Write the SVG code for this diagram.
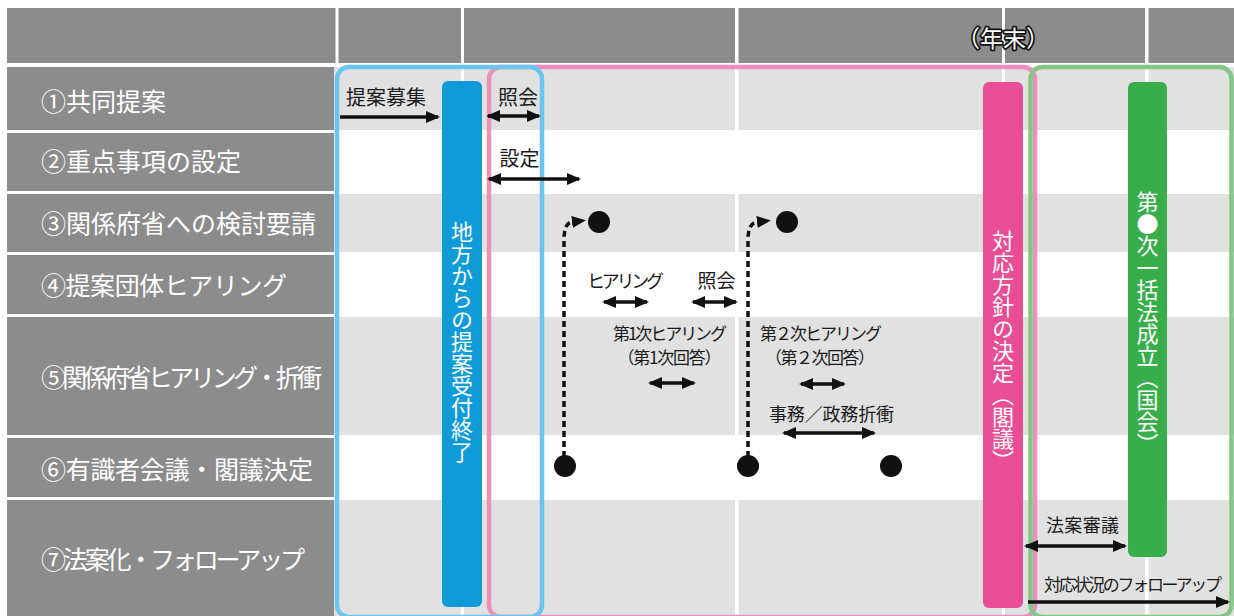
<svg xmlns="http://www.w3.org/2000/svg" width="1234" height="616" viewBox="0 0 1234 616">
<style>
.jp{font-family:"Noto Sans CJK JP","Noto Sans CJK SC",sans-serif;}
.lbl{font-size:25px;fill:#fff;}
.t{font-size:19px;fill:#1a1a1a;text-anchor:middle;}
.vt{font-size:22px;fill:#fff;writing-mode:vertical-rl;}
.hdr{fill:#8c8c8c;}
.row{fill:#e1e1e1;}
.col{fill:#fff;}
.arr{stroke:#111;stroke-width:3.5;fill:none;}
.dash{stroke:#111;stroke-width:3.5;fill:none;stroke-dasharray:6 4;}
.dot{fill:#111;}
</style>
<defs>
<marker id="ah" viewBox="0 0 14 12" refX="12" refY="6" markerWidth="14" markerHeight="12" markerUnits="userSpaceOnUse" orient="auto-start-reverse"><path d="M0,0 L14,6 L0,12 z" fill="#111"/></marker>
<marker id="ahd" viewBox="0 0 14 12" refX="0" refY="6" markerWidth="14" markerHeight="12" markerUnits="userSpaceOnUse" orient="auto"><path d="M0,0 L14,6 L0,12 z" fill="#111"/></marker>
</defs>
<rect width="1234" height="616" fill="#fff"/>
<g id="header">
<rect class="hdr" x="7" y="8" width="1227" height="55"/>
<rect class="col" x="335.5" y="8" width="3" height="55"/>
<rect class="col" x="461" y="8" width="3" height="55"/>
<rect class="col" x="735" y="8" width="3.5" height="55"/>
<rect class="col" x="1002" y="8" width="3" height="55"/>
<rect class="col" x="1145" y="8" width="3.5" height="55"/>
<text class="jp" x="1003" y="47" font-size="23" text-anchor="middle" fill="#fff" stroke="#111" stroke-width="3.5" paint-order="stroke" stroke-linejoin="round">（年末）</text>
</g>
<g id="grid">
<rect class="row" x="334" y="67" width="900" height="63"/>
<rect class="row" x="334" y="194" width="900" height="58"/>
<rect class="row" x="334" y="317" width="900" height="118"/>
<rect class="row" x="334" y="500" width="900" height="116"/>
<rect class="col" x="461" y="67" width="3" height="549"/>
<rect class="col" x="735" y="67" width="3.5" height="549"/>
<rect class="col" x="1002" y="67" width="3" height="549"/>
<rect class="col" x="1145" y="67" width="3.5" height="549"/>
</g>
<g id="row-labels" class="jp lbl">
<rect class="hdr" x="7" y="67" width="327" height="63"/>
<rect class="hdr" x="7" y="133" width="327" height="58"/>
<rect class="hdr" x="7" y="194" width="327" height="58"/>
<rect class="hdr" x="7" y="255" width="327" height="59"/>
<rect class="hdr" x="7" y="317" width="327" height="118"/>
<rect class="hdr" x="7" y="438" width="327" height="59"/>
<rect class="hdr" x="7" y="500" width="327" height="116"/>
<text x="41" y="110.5">①共同提案</text>
<text x="41" y="171">②重点事項の設定</text>
<text x="41" y="232.5" textLength="275">③関係府省への検討要請</text>
<text x="41" y="294.5" textLength="246">④提案団体ヒアリング</text>
<text x="41" y="386.5" textLength="281">⑤関係府省ヒアリング・折衝</text>
<text x="41" y="478.5" textLength="272">⑥有識者会議・閣議決定</text>
<text x="41" y="568.5" textLength="264">⑦法案化・フォローアップ</text>
</g>
<g id="phase-pink"><rect x="489" y="67" width="546" height="550" rx="12" fill="none" stroke="#eb90bb" stroke-width="4.5"/></g>
<g id="phase-green"><rect x="1030.5" y="67" width="201" height="550" rx="12" fill="none" stroke="#82c785" stroke-width="4.5"/></g>
<g id="phase-blue"><rect x="337" y="67" width="205" height="550" rx="12" fill="none" stroke="#6ac5ef" stroke-width="4.5"/></g>
<g id="bar-blue">
<rect x="442" y="81" width="40" height="526" rx="6" fill="#0f9bd7"/>
<text class="jp vt" x="462" y="221">地方からの提案受付終了</text>
</g>
<g id="bar-pink">
<rect x="983" y="82" width="40" height="526" rx="6" fill="#e84d95"/>
<text class="jp vt" x="1003" y="230">対応方針の決定（閣議）</text>
</g>
<g id="bar-green">
<rect x="1128" y="82" width="39" height="475" rx="6" fill="#38ae4b"/>
<text class="jp vt" x="1147.5" y="191">第●次一括法成立（国会）</text>
</g>
<g id="labels" class="jp t">
<text x="386" y="104.5" font-size="20">提案募集</text>
<text x="518" y="104.5" font-size="20">照会</text>
<text x="519.5" y="165.5" font-size="20">設定</text>
<text x="625.5" y="288" font-size="18" textLength="77">ヒアリング</text>
<text x="716.5" y="288" font-size="19">照会</text>
<text x="670" y="340" font-size="17" textLength="114">第1次ヒアリング</text>
<text x="669.5" y="364" font-size="17" textLength="104">（第1次回答）</text>
<text x="821" y="340" font-size="17" textLength="122">第２次ヒアリング</text>
<text x="820" y="364" font-size="17" textLength="110">（第２次回答）</text>
<text x="831.5" y="421" font-size="18" textLength="125">事務／政務折衝</text>
<text x="1082.5" y="531.5" font-size="18" textLength="73">法案審議</text>
<text x="1133" y="590.5" font-size="17" textLength="178">対応状況のフォローアップ</text>
</g>
<g id="connectors">
<line class="arr" x1="340" y1="117" x2="438" y2="117" marker-end="url(#ah)"/>
<line class="arr" x1="488" y1="116" x2="539" y2="116" marker-start="url(#ah)" marker-end="url(#ah)"/>
<line class="arr" x1="489" y1="179" x2="579" y2="179" marker-start="url(#ah)" marker-end="url(#ah)"/>
<line class="arr" x1="604" y1="302" x2="647" y2="302" marker-start="url(#ah)" marker-end="url(#ah)"/>
<line class="arr" x1="693" y1="302" x2="736" y2="302" marker-start="url(#ah)" marker-end="url(#ah)"/>
<line class="arr" x1="650" y1="383" x2="694" y2="383" marker-start="url(#ah)" marker-end="url(#ah)"/>
<line class="arr" x1="801" y1="384" x2="844" y2="384" marker-start="url(#ah)" marker-end="url(#ah)"/>
<line class="arr" x1="784" y1="433" x2="874" y2="433" marker-start="url(#ah)" marker-end="url(#ah)"/>
<line class="arr" x1="1026" y1="546" x2="1125" y2="546" marker-start="url(#ah)" marker-end="url(#ah)"/>
<line class="arr" x1="1028" y1="602" x2="1228" y2="602" marker-end="url(#ah)"/>
<path class="dash" d="M564,457 V240 Q564,223 572,222" marker-end="url(#ahd)"/>
<path class="dash" d="M748,457 V240 Q748,223 757,222" marker-end="url(#ahd)"/>
</g>
<g id="dots">
<circle class="dot" cx="599" cy="222" r="11"/>
<circle class="dot" cx="787" cy="222" r="11"/>
<circle class="dot" cx="565" cy="466" r="11"/>
<circle class="dot" cx="748" cy="466" r="11"/>
<circle class="dot" cx="891" cy="466" r="11"/>
</g>
</svg>
